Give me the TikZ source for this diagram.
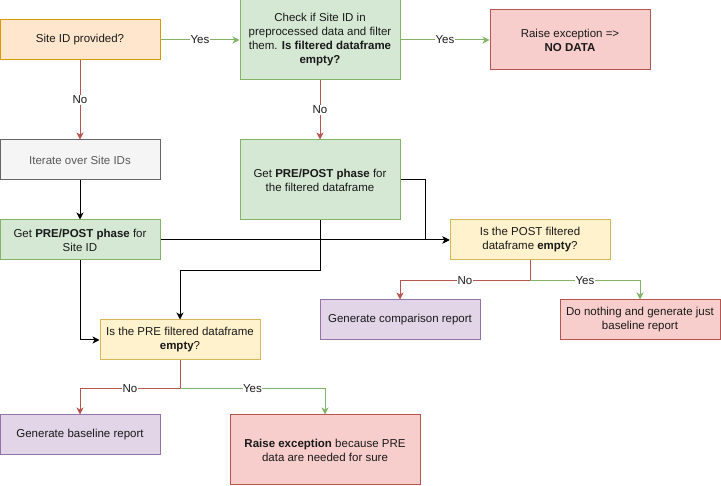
\documentclass[tikz,border=0pt]{standalone}
\usepackage{fontspec}
\setmainfont{Liberation Sans}
\usepackage{tikz}
\usetikzlibrary{arrows.meta,calc}
\usetikzlibrary{positioning,shapes}

\definecolor{txt}{HTML}{1A1A1A}
\definecolor{orangefill}{HTML}{FFE6CC}
\definecolor{orangeline}{HTML}{D79B00}
\definecolor{greenfill}{HTML}{D5E8D4}
\definecolor{greenline}{HTML}{82B366}
\definecolor{redfill}{HTML}{F8CECC}
\definecolor{redline}{HTML}{B85450}
\definecolor{grayfill}{HTML}{F5F5F5}
\definecolor{grayline}{HTML}{666666}
\definecolor{yellowfill}{HTML}{FFF2CC}
\definecolor{yellowline}{HTML}{D6B656}
\definecolor{purplefill}{HTML}{E1D5E7}
\definecolor{purpleline}{HTML}{9673A6}

\tikzstyle{box}=[rectangle, draw, line width=1pt, minimum width=160pt,
  minimum height=40pt, inner sep=2pt, align=center, text=txt,
  font=\fontsize{11.5}{14}\selectfont]
\tikzstyle{start}=[box, fill=orangefill, draw=orangeline]
\tikzstyle{task}=[box, fill=greenfill, draw=greenline]
\tikzstyle{fail}=[box, fill=redfill, draw=redline]
\tikzstyle{loop}=[box, fill=grayfill, draw=grayline, text=black!65]
\tikzstyle{query}=[box, fill=yellowfill, draw=yellowline]
\tikzstyle{report}=[box, fill=purplefill, draw=purpleline]
\tikzstyle{flow}=[-{Stealth[length=7pt,width=7pt,inset=2pt]}, line width=1pt]
\tikzstyle{yes}=[flow, greenline]
\tikzstyle{no}=[flow, redline]
\tikzstyle{lbl}=[fill=white, inner sep=0.5pt, text=txt,
  font=\fontsize{11.5}{13}\selectfont]

\begin{document}
\begin{tikzpicture}[x=1pt,y=-1pt]
  \useasboundingbox (0,0) rectangle (721,486);

  % top row
  \node[start] (site) at (80,40) {Site ID provided?};
  \node[task, minimum height=80pt] (check) at (320,40)
    {Check if Site ID in\\preprocessed data and filter\\them. \textbf{Is filtered dataframe}\\\textbf{empty?}};
  \node[fail, minimum height=60pt] (nodata) at (570,40)
    {Raise exception =>\\\textbf{NO DATA}};

  % phase detection
  \node[loop] (iter) at (80,160) {Iterate over Site IDs};
  \node[task, minimum height=80pt] (phasefilt) at (320,180)
    {Get \textbf{PRE/POST phase} for\\the filtered dataframe};
  \node[task] (phasesite) at (80,240) {Get \textbf{PRE/POST phase} for\\Site ID};

  % POST check
  \node[query] (post) at (530,240) {Is the POST filtered\\dataframe \textbf{empty}?};
  \node[report] (compare) at (400,320) {Generate comparison report};
  \node[fail] (nothing) at (640,320) {Do nothing and generate just\\baseline report};

  % PRE check
  \node[query] (pre) at (180,340) {Is the PRE filtered dataframe\\\textbf{empty}?};
  \node[report] (baseline) at (80,435) {Generate baseline report};
  \node[fail, minimum width=190pt, minimum height=70pt] (preexc) at (325,450)
    {\textbf{Raise exception} because PRE\\data are needed for sure};

  \coordinate (postsplit) at ($(post.south)+(0,20)$);
  \coordinate (presplit) at ($(pre.south)+(0,28)$);

  % decisions
  \draw[yes] (site) -- node[lbl] {Yes} (check);
  \draw[yes] (check) -- node[lbl] {Yes} (nodata);
  \draw[no] (site) -- node[lbl] {No} (iter);
  \draw[no] (check) -- node[lbl] {No} (phasefilt);

  % plain flow
  \draw[flow] (iter) -- (phasesite);
  \draw[flow] (phasesite) -- (post);
  \draw[flow] (phasefilt.east) -- ++(25,0) |- (post.west);
  \draw[flow] (phasefilt.south) -- ++(0,50) -| (pre.north);
  \draw[flow] (phasesite.south) |- (pre.west);

  % branches
  \draw[no] (post.south) -- (postsplit) -| node[lbl,pos=0.25] {No} (compare.north);
  \draw[yes] (postsplit) -| node[lbl,pos=0.25] {Yes} (nothing.north);
  \draw[no] (pre.south) -- (presplit) -| node[lbl,pos=0.25] {No} (baseline.north);
  \draw[yes] (presplit) -| node[lbl,pos=0.25] {Yes} (preexc.north);

\end{tikzpicture}
\end{document}
